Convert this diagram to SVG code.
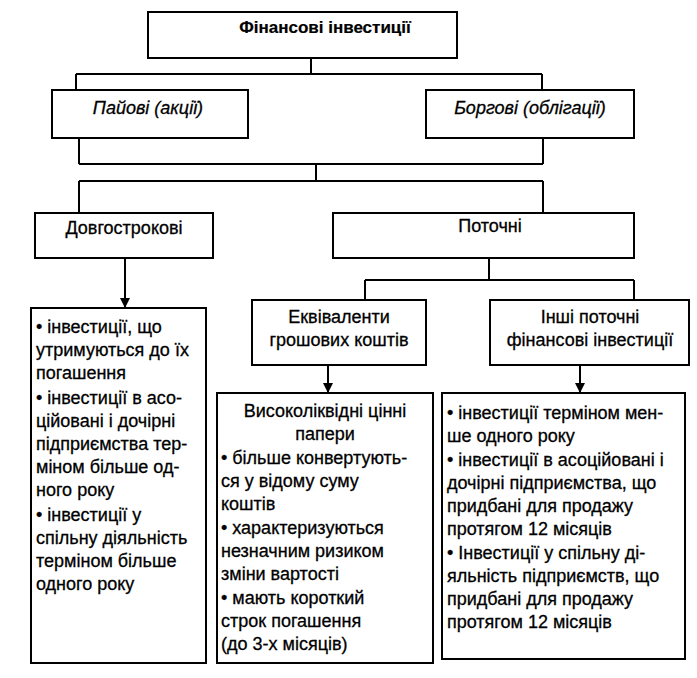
<svg xmlns="http://www.w3.org/2000/svg" width="697" height="678" viewBox="0 0 697 678">
<style>
.box{fill:#fff;stroke:#000;stroke-width:2}
.ln{fill:none;stroke:#000;stroke-width:2}
text{font-family:"Liberation Sans",Arial,sans-serif;font-size:18px;fill:#000;stroke:#000;stroke-width:0.3}
.c{text-anchor:middle}
.b{font-weight:bold;font-size:17px;stroke-width:0.2}
.i{font-style:italic}
</style>
<defs>
<marker id="ah" viewBox="0 0 10 10" refX="10" refY="5" markerWidth="10" markerHeight="10" markerUnits="userSpaceOnUse" orient="auto">
<path d="M0,0 L10,5 L0,10 z" fill="#000"/>
</marker>
</defs>
<rect width="697" height="678" fill="#fff"/>
<g id="connectors">
<path class="ln" d="M311,58 V74 M76,74 H542 M76,74 V90 M542,74 V90"/>
<path class="ln" d="M79,138 V164 M543,138 V164 M79,164 H543 M316,164 V181 M79,181 H543 M79,181 V213 M543,181 V213"/>
<path class="ln" d="M125,258 V308" marker-end="url(#ah)"/>
<path class="ln" d="M489,258 V280 M365,280 H634 M365,280 V300 M634,280 V300"/>
<path class="ln" d="M328,365 V393" marker-end="url(#ah)"/>
<path class="ln" d="M580,365 V393" marker-end="url(#ah)"/>
</g>
<g id="n-fin">
<rect class="box" x="148" y="12" width="309" height="46"/>
<text class="c b" x="325" y="33">Фінансові інвестиції</text>
</g>
<g id="n-pai">
<rect class="box" x="52" y="90" width="196" height="48"/>
<text class="c i" x="148" y="114">Пайові (акції)</text>
</g>
<g id="n-borg">
<rect class="box" x="426" y="90" width="208" height="48"/>
<text class="c i" x="530" y="114">Боргові (облігації)</text>
</g>
<g id="n-dovg">
<rect class="box" x="35" y="213" width="178" height="45"/>
<text class="c" x="124" y="234">Довгострокові</text>
</g>
<g id="n-potoch">
<rect class="box" x="333" y="213" width="301" height="45"/>
<text class="c" x="490" y="232">Поточні</text>
</g>
<g id="n-ekv">
<rect class="box" x="252" y="300" width="174" height="65"/>
<text class="c" x="339" y="323">Еквіваленти</text>
<text class="c" x="339" y="346">грошових коштів</text>
</g>
<g id="n-inshi">
<rect class="box" x="490" y="300" width="199" height="65"/>
<text class="c" x="590" y="323">Інші поточні</text>
<text class="c" x="590" y="346">фінансові інвестиції</text>
</g>
<g id="n-left">
<rect class="box" x="31" y="308" width="175" height="355"/>
<text x="36" y="333">•  інвестиції, що</text>
<text x="36" y="356">утримуються до їх</text>
<text x="36" y="379">погашення</text>
<text x="36" y="404">•  інвестиції в асо-</text>
<text x="36" y="427">ційовані і дочірні</text>
<text x="36" y="450">підприємства тер-</text>
<text x="36" y="473">міном більше од-</text>
<text x="36" y="496">ного року</text>
<text x="36" y="521">•  інвестиції у</text>
<text x="36" y="544">спільну діяльність</text>
<text x="36" y="567">терміном більше</text>
<text x="36" y="590">одного року</text>
</g>
<g id="n-mid">
<rect class="box" x="217" y="393" width="216" height="270"/>
<text class="c" x="325" y="417">Високоліквідні цінні</text>
<text class="c" x="325" y="440">папери</text>
<text x="221" y="464">•  більше конвертують-</text>
<text x="221" y="487">ся у відому суму</text>
<text x="221" y="510">коштів</text>
<text x="221" y="534">•  характеризуються</text>
<text x="221" y="557">незначним ризиком</text>
<text x="221" y="580">зміни вартості</text>
<text x="221" y="604">•  мають короткий</text>
<text x="221" y="627">строк погашення</text>
<text x="221" y="650">(до 3-х місяців)</text>
</g>
<g id="n-right">
<rect class="box" x="442" y="393" width="243" height="266"/>
<text x="447" y="419">•  інвестиції терміном мен-</text>
<text x="447" y="442">ше одного року</text>
<text x="447" y="466">•  інвестиції в асоційовані і</text>
<text x="447" y="489">дочірні підприємства, що</text>
<text x="447" y="512">придбані для продажу</text>
<text x="447" y="535">протягом 12 місяців</text>
<text x="447" y="559">•  Інвестиції у спільну ді-</text>
<text x="447" y="582">яльність підприємств, що</text>
<text x="447" y="605">придбані для продажу</text>
<text x="447" y="628">протягом 12 місяців</text>
</g>
</svg>
